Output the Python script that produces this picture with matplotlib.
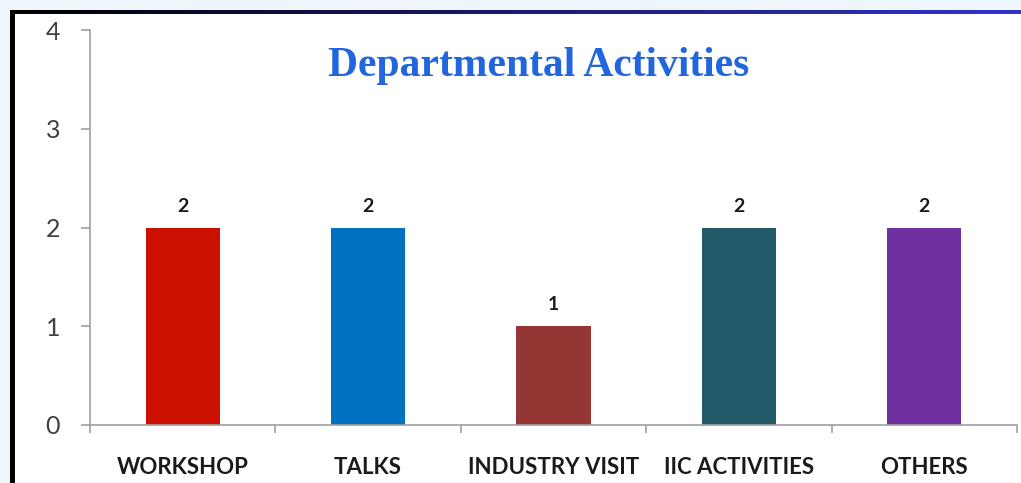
import matplotlib
matplotlib.use("Agg")
import matplotlib.pyplot as plt
import numpy as np
from matplotlib.patches import Rectangle
from matplotlib.colors import LinearSegmentedColormap

categories = ["WORKSHOP", "TALKS", "INDUSTRY VISIT", "IIC ACTIVITIES", "OTHERS"]
values = [2, 2, 1, 2, 2]
colors = ["#cc1100", "#0070c0", "#943634", "#215968", "#7030a0"]
yticks = [0, 1, 2, 3, 4]
title = "Departmental Activities"

W, H = 1021, 483
fig = plt.figure(figsize=(W / 100, H / 100), dpi=100, facecolor="#eef6fb")

# background decoration axes
bg = fig.add_axes([0, 0, 1, 1], zorder=0)
bg.axis("off")
bg.add_patch(Rectangle((14, 14), W - 14, H - 14, facecolor="white", edgecolor="none"))
bg.add_patch(Rectangle((10, 10), 5, H - 10, facecolor="black", edgecolor="none"))
cmap = LinearSegmentedColormap.from_list("g", ["#000000", "#1a1a6e", "#3333cc"])
bg.imshow(np.linspace(0, 1, 256).reshape(1, -1), aspect="auto", cmap=cmap,
          extent=(10, W, 14, 10))
bg.set_xlim(0, W)
bg.set_ylim(H, 0)

ax = fig.add_axes([90 / W, 1 - 425 / H, (1017 - 90) / W, (425 - 30) / H], zorder=5)
ax.set_facecolor("none")
x = np.arange(len(categories))
ax.bar(x, values, width=0.4, color=colors, zorder=2)
for xi, v in zip(x, values):
    ax.annotate(str(v), (xi, v), xytext=(0, 11.5), textcoords="offset points",
                ha="center", va="baseline", fontsize=14, fontweight="bold",
                family="Lato", color="#1a1a1a")

ax.set_xlim(-0.5, len(categories) - 0.5)
ax.set_ylim(0, 4)
ax.set_yticks(yticks)
ax.set_yticklabels([str(t) for t in yticks], fontsize=18, family="Lato", color="#404040")
ax.set_xticks(np.arange(len(categories) + 1) - 0.5, minor=False)
ax.set_xticklabels([])
ax.set_xticks(x, minor=True)
ax.set_xticklabels(categories, minor=True, fontsize=16, fontweight="bold",
                   family="Lato", color="#1a1a1a")
ax.tick_params(axis="x", which="minor", length=0, pad=23)
ax.tick_params(axis="x", which="major", length=6, color="#a0a0a0", width=1.2)
ax.tick_params(axis="y", length=6.5, color="#a0a0a0", width=1.2, pad=15)
for s in ["top", "right"]:
    ax.spines[s].set_visible(False)
for s in ["left", "bottom"]:
    ax.spines[s].set_color("#a0a0a0")
    ax.spines[s].set_linewidth(1.2)

fig.text(539 / W, 1 - 66 / H, title, ha="center", va="center", fontsize=30,
         fontweight="bold", family="Liberation Serif", color="#2266dd", zorder=10)

fig.savefig("out.png", dpi=100, facecolor=fig.get_facecolor())
